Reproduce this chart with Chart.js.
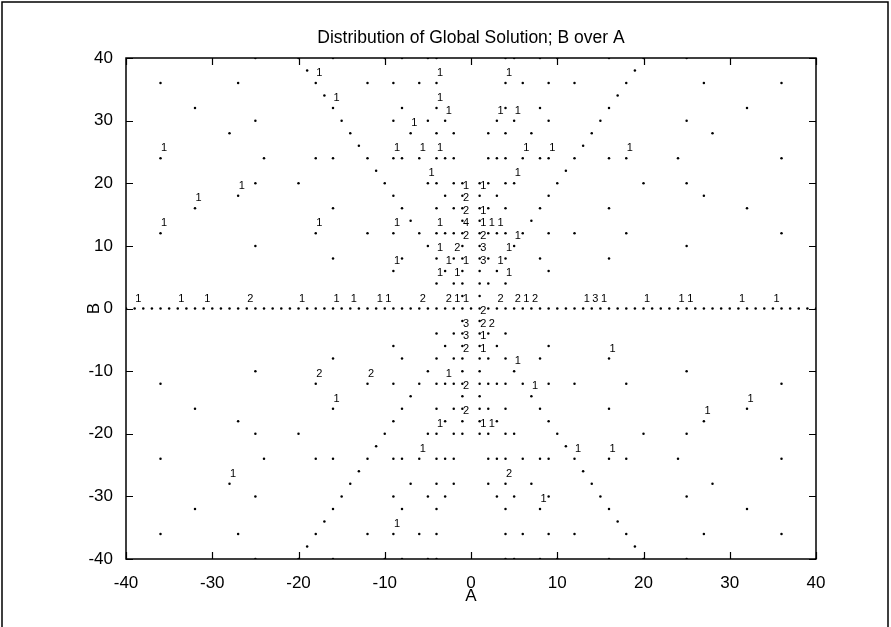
<!DOCTYPE html>
<html><head><meta charset="utf-8">
<script src="https://cdn.jsdelivr.net/npm/chart.js@4/dist/chart.umd.min.js"></script>
<style>
html,body{margin:0;padding:0;background:#fff;}
#wrap{position:relative;width:891px;height:627px;}
canvas{display:block;}
</style></head><body>
<div id="wrap"><canvas id="c" width="891" height="627"></canvas></div>
<script>
// ---- candidate points: each A list shares the B list at the same index ----
const groupA = [
  [-1, 1],
  [-2, 2],
  [-4, 4],
  [-3, 3],
  [-9, 9],
  [-16, -8, 8, 16],
  [-25, -5, 5, 25],
  [-36, -18, -12, -6, 6, 12, 18, 36],
  [-7, 7],
  [-32, 32],
  [-27, 27],
  [-20, -10, 10, 20],
  [-11, 11],
  [-24, 24],
  [-13, 13],
  [-28, -14, 14, 28],
  [-15, 15],
  [-17, 17],
  [-19, 19],
  [-40, 40],
  [-39, -38, -37, -35, -34, -33, -31, -30, -29, -26, -23, -22, -21, 0, 21, 22, 23, 26, 29, 30, 31, 33, 34, 35, 37, 38, 39]
];
const groupB = [
  [-20, -18, -16, -14, -12, -10, -8, -6, -4, -2, 0, 2, 4, 6, 8, 10, 12, 14, 16, 18, 20],
  [-28, -24, -20, -16, -12, -8, -4, 0, 4, 8, 12, 16, 20, 24, 28],
  [-40, -36, -32, -28, -24, -20, -16, -12, -8, -4, 0, 4, 8, 12, 16, 20, 24, 28, 32, 36, 40],
  [-30, -24, -18, -12, -6, 0, 6, 12, 18, 24, 30],
  [-36, -30, -24, -18, -12, -6, 0, 6, 12, 18, 24, 30, 36],
  [-40, -32, -24, -16, -8, 0, 8, 16, 24, 32, 40],
  [-40, -30, -20, -10, 0, 10, 20, 30, 40],
  [-36, -24, -12, 0, 12, 24, 36],
  [-28, -14, 0, 14, 28],
  [-32, -16, 0, 16, 32],
  [-36, -18, 0, 18, 36],
  [-40, -20, 0, 20, 40],
  [-22, 0, 22],
  [-24, 0, 24],
  [-26, 0, 26],
  [-28, 0, 28],
  [-30, 0, 30],
  [-34, 0, 34],
  [-38, 0, 38],
  [-40, 0, 40],
  [0]
];

// ---- count labels (A, B, count) ----
const labelA = [
  -18, -4, 4,   -16, -4,   -3, 3, 5,   -7,
  -36, -9, -6, -4, 6, 9, 18,   -5, 5,   -27, -1, 1,   -32, -1,   -1, 1,
  -36, -18, -9, -4, -1, 1, 2, 3,   -1, 1, 5,   -4, -2, 1, 4,   -9, -3, -1, 1, 3,   -4, -2, 4,
  -39, -34, -31, -26, -20, -16, -14, -11, -10, -6, -3, -2, -1, 3, 5, 6, 7, 13, 14, 15, 20, 24, 25, 31, 35,
  1,   -1, 1, 2,   -1, 1,   -1, 1, 16,   5,   -18, -12, -3,   -1, 7,   -16, 32,   -1, 27,
  -4, 1, 2,   -6, 12, 16,   -28, 4,   8,   -9
];
const labelB = [
  36, 36, 36,   32, 32,   30, 30, 30,   28,
  24, 24, 24, 24, 24, 24, 24,   20, 20,   18, 18, 18,   16, 16,   14, 14,
  12, 12, 12, 12, 12, 12, 12, 12,   10, 10, 10,   8, 8, 8, 8,   6, 6, 6, 6, 6,   4, 4, 4,
  0, 0, 0, 0, 0, 0, 0, 0, 0, 0, 0, 0, 0, 0, 0, 0, 0, 0, 0, 0, 0, 0, 0, 0, 0,
  -2,   -4, -4, -4,   -6, -6,   -8, -8, -8,   -10,   -12, -12, -12,   -14, -14,   -16, -16,   -18, -18,
  -20, -20, -20,   -24, -24, -24,   -28, -28,   -32,   -36
];
const labelN = [
  1, 1, 1,   1, 1,   1, 1, 1,   1,
  1, 1, 1, 1, 1, 1, 1,   1, 1,   1, 1, 1,   1, 2,   2, 1,
  1, 1, 1, 1, 4, 1, 1, 1,   2, 2, 1,   1, 2, 3, 1,   1, 1, 1, 3, 1,   1, 1, 1,
  1, 1, 1, 2, 1, 1, 1, 1, 1, 2, 2, 1, 1, 2, 2, 1, 2, 1, 3, 1, 1, 1, 1, 1, 1,
  2,   3, 2, 2,   3, 1,   2, 1, 1,   1,   2, 2, 1,   2, 1,   1, 1,   2, 1,
  1, 1, 1,   1, 1, 1,   1, 2,   1,   1
];

const tickValues = [-40, -30, -20, -10, 0, 10, 20, 30, 40];

// build point table from the lists above
const points = [];
groupA.forEach((aList, i) => {
  aList.forEach(a => groupB[i].forEach(b => points.push({x: a, y: b})));
});

const FONT = '"Liberation Sans", Arial, Helvetica, sans-serif';

const matlabPlugin = {
  id: 'matlab',
  beforeDraw(chart) {
    const ctx = chart.ctx;
    ctx.save();
    ctx.fillStyle = '#fff';
    ctx.fillRect(0, 0, chart.width, chart.height);
    ctx.restore();
  },
  afterDatasetsDraw(chart) {
    const {ctx, chartArea: ca, scales: {x, y}} = chart;
    ctx.save();
    // count labels
    ctx.font = '11px ' + FONT;
    ctx.fillStyle = '#000';
    ctx.textAlign = 'left';
    ctx.textBaseline = 'middle';
    for (let i = 0; i < labelA.length; i++) {
      ctx.fillText(String(labelN[i]), x.getPixelForValue(labelA[i]) + 0.5, y.getPixelForValue(labelB[i]) - 10);
    }
    // axes box
    ctx.strokeStyle = '#000';
    ctx.lineWidth = 1.5;
    ctx.strokeRect(ca.left, ca.top, ca.right - ca.left, ca.bottom - ca.top);
    // inward ticks on all sides
    const tl = 7;
    ctx.lineWidth = 1.2;
    ctx.beginPath();
    x.ticks.forEach(t => {
      const px = Math.round(x.getPixelForValue(t.value)) + 0.5;
      ctx.moveTo(px, ca.bottom); ctx.lineTo(px, ca.bottom - tl);
      ctx.moveTo(px, ca.top); ctx.lineTo(px, ca.top + tl);
    });
    y.ticks.forEach(t => {
      const py = Math.round(y.getPixelForValue(t.value)) + 0.5;
      ctx.moveTo(ca.left, py); ctx.lineTo(ca.left + tl, py);
      ctx.moveTo(ca.right, py); ctx.lineTo(ca.right - tl, py);
    });
    ctx.stroke();
    // figure frame
    ctx.lineWidth = 1.5;
    ctx.beginPath();
    ctx.moveTo(2, chart.height); ctx.lineTo(2, 2); ctx.lineTo(chart.width - 3, 2); ctx.lineTo(chart.width - 3, chart.height);
    ctx.stroke();
    ctx.restore();
  }
};

new Chart(document.getElementById('c'), {
  type: 'scatter',
  data: {
    datasets: [{
      data: points,
      pointRadius: 1.25,
      pointHoverRadius: 1.25,
      pointBackgroundColor: '#000',
      pointBorderWidth: 0,
      borderWidth: 0
    }]
  },
  options: {
    responsive: false,
    animation: false,
    devicePixelRatio: 1,
    events: [],
    layout: {padding: {top: 0, left: 0, right: 75, bottom: 0}},
    plugins: {
      legend: {display: false},
      tooltip: {enabled: false},
      title: {
        display: true,
        fullSize: false,
        text: 'Distribution of Global Solution; B over A',
        color: '#000',
        font: {family: FONT, size: 17.5, weight: 'normal', lineHeight: 1.2},
        padding: {top: 27.5, bottom: 9.5}
      }
    },
    scales: {
      x: {
        type: 'linear', min: -40, max: 40,
        afterBuildTicks: s => { s.ticks = tickValues.map(v => ({value: v})); },
        afterFit: s => { s.height = 68; },
        grid: {display: false},
        border: {display: false},
        ticks: {color: '#000', padding: 6, font: {family: FONT, size: 17}, maxRotation: 0},
        title: {display: true, text: 'A', color: '#000', font: {family: FONT, size: 17}, padding: {top: 0, bottom: 20}}
      },
      y: {
        type: 'linear', min: -40, max: 40,
        afterBuildTicks: s => { s.ticks = tickValues.map(v => ({value: v})); },
        afterFit: s => { s.width = 126; },
        grid: {display: false},
        border: {display: false},
        ticks: {color: '#000', padding: 5, font: {family: FONT, size: 17}},
        title: {display: true, text: 'B', color: '#000', font: {family: FONT, size: 17}, padding: {top: 84, bottom: 0}}
      }
    }
  },
  plugins: [matlabPlugin]
});
</script>
</body></html>
